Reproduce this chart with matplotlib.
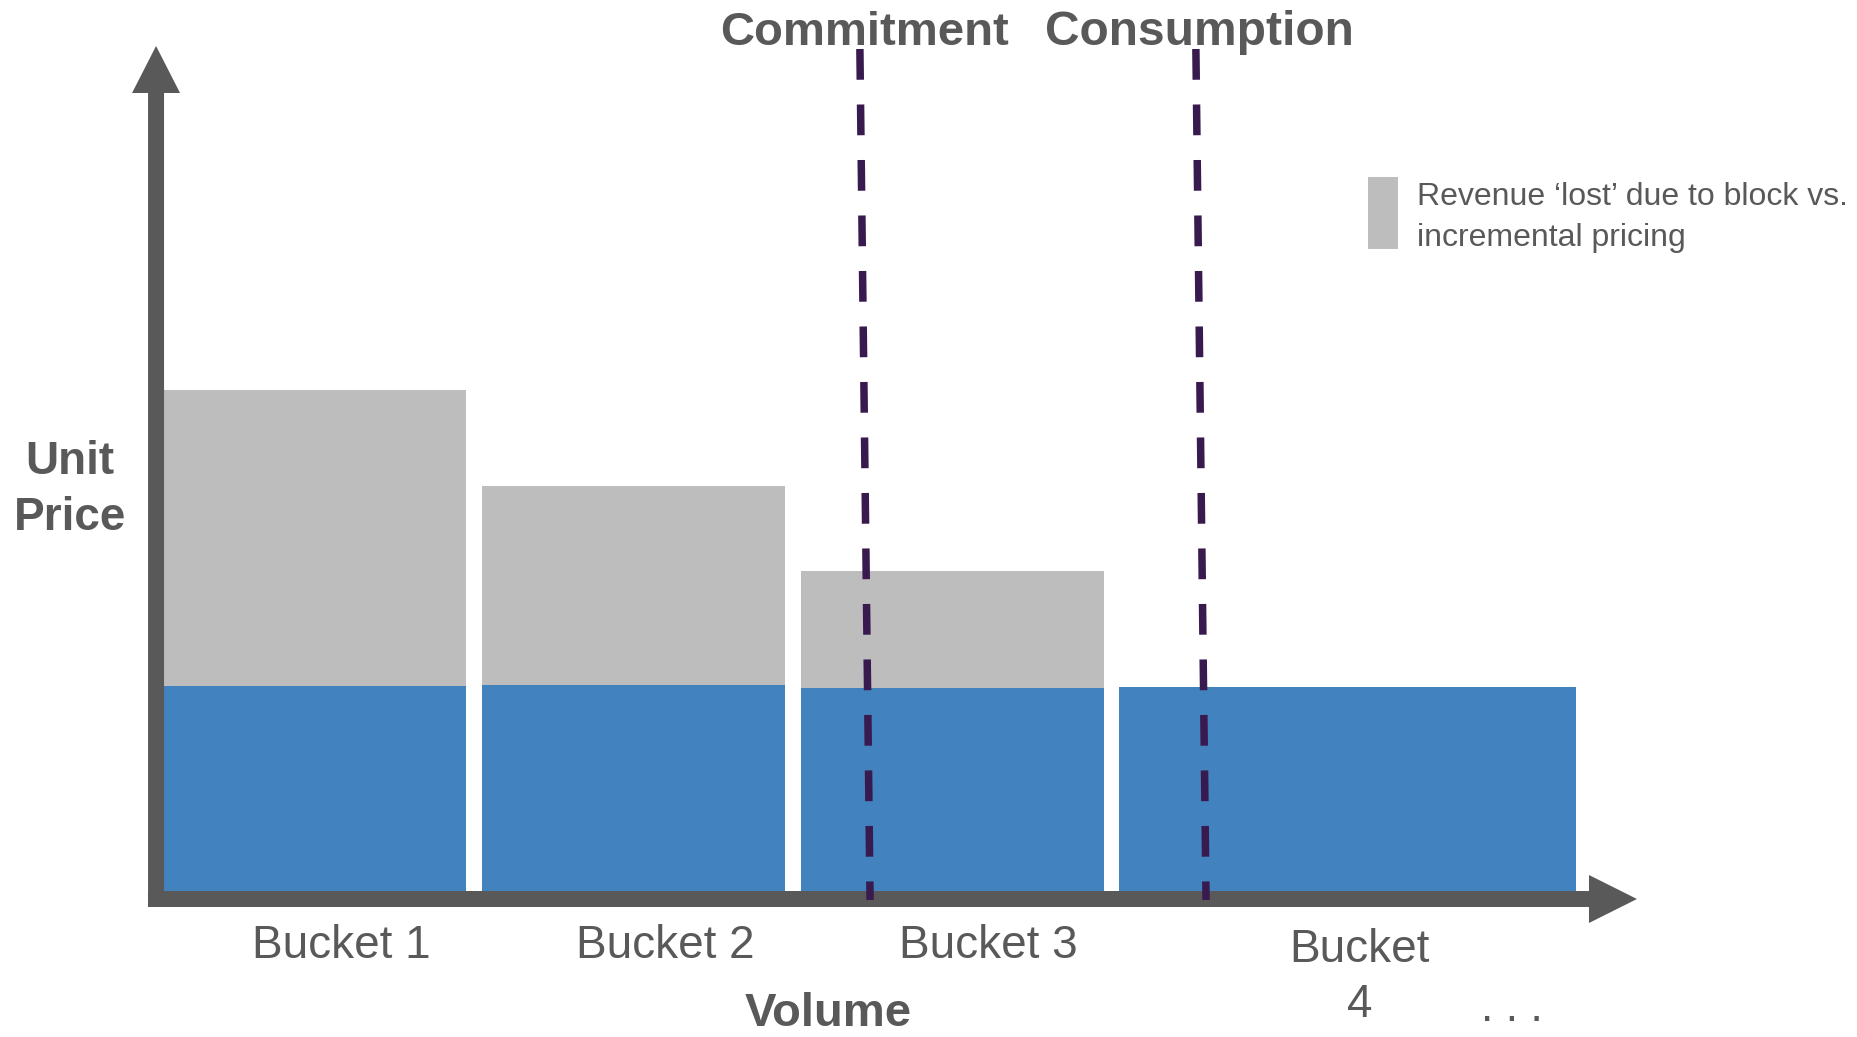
import matplotlib.pyplot as plt
from matplotlib.patches import FancyArrow, Rectangle

plt.rcParams['font.family'] = ['Liberation Sans', 'DejaVu Sans']

# Buckets along the volume axis (start, bar width) and unit prices
buckets = ["Bucket 1", "Bucket 2", "Bucket 3", "Bucket\n4"]
bucket_start = [0.0, 1.0, 2.0, 3.0]
bucket_width = [0.948, 0.951, 0.951, 1.435]
incremental_price = [2.05, 2.06, 2.03, 2.04]
block_price = [5.01, 4.05, 3.20, 2.04]

# Commitment / consumption markers (volume at top and bottom of the line)
commit_x = (2.185, 2.217)
consume_x = (3.240, 3.272)

legend_text = ["Revenue \u2018lost\u2019 due to block vs.", "incremental pricing"]

# Styling
blue = '#4282BE'
grey = '#BDBDBD'
dark = '#595959'
purple = '#381A4F'

fig = plt.figure(figsize=(18.58, 10.37), dpi=100)
ax = fig.add_axes([0, 0, 1, 1])
ax.set_xlim(-0.515, 5.319)
ax.set_ylim(-1.46, 8.91)
ax.axis('off')

# stacked bars: incremental price + block premium
lost = [b - i for b, i in zip(block_price, incremental_price)]
ax.bar(bucket_start, incremental_price, width=bucket_width, align='edge',
       color=blue, linewidth=0, zorder=2)
ax.bar(bucket_start, lost, width=bucket_width, bottom=incremental_price,
       align='edge', color=grey, linewidth=0, zorder=2)

# axis arrows
ax.add_patch(FancyArrow(-0.025, -0.16, 0, 8.61, width=0.0502, head_width=0.1507,
                        head_length=0.47, length_includes_head=True,
                        color=dark, linewidth=0, zorder=3))
ax.add_patch(FancyArrow(-0.05, -0.08, 4.675, 0, width=0.16, head_width=0.48,
                        head_length=0.1507, length_includes_head=True,
                        color=dark, linewidth=0, zorder=3))

# dashed markers
for xs in (commit_x, consume_x):
    ax.plot(xs, [8.42, -0.09], color=purple, linewidth=5.4,
            dashes=(4.1, 3.3), solid_capstyle='butt', dash_capstyle='butt', zorder=4)

ax.text(2.20, 8.46, "Commitment", ha='center', va='baseline', fontsize=34,
        fontweight='bold', color=dark)
ax.text(3.25, 8.46, "Consumption", ha='center', va='baseline', fontsize=34.5,
        fontweight='bold', color=dark)

# y label (baseline of the last line)
ax.text(-0.295, 3.61, "Unit\nPrice", ha='center', va='baseline', fontsize=33,
        fontweight='bold', color=dark, linespacing=1.34)

# bucket labels
label_x = [0.556, 1.573, 2.587, 3.755]
for lx, lab in zip(label_x, buckets):
    y = -0.67 if '\n' not in lab else -1.26
    ax.text(lx, y, lab, ha='center', va='baseline', fontsize=33,
            color=dark, linespacing=1.31)

ax.text(2.085, -1.35, "Volume", ha='center', va='baseline', fontsize=34,
        fontweight='bold', color=dark)
ax.text(4.135, -1.30, ". . .", ha='left', va='baseline', fontsize=32, color=dark)

# legend
ax.add_patch(Rectangle((3.780, 6.42), 0.094, 0.72, color=grey, linewidth=0))
ax.text(3.934, 6.86, legend_text[0], ha='left', va='baseline', fontsize=23, color=dark)
ax.text(3.934, 6.45, legend_text[1], ha='left', va='baseline', fontsize=23, color=dark)

fig.savefig('out.png', dpi=100)
